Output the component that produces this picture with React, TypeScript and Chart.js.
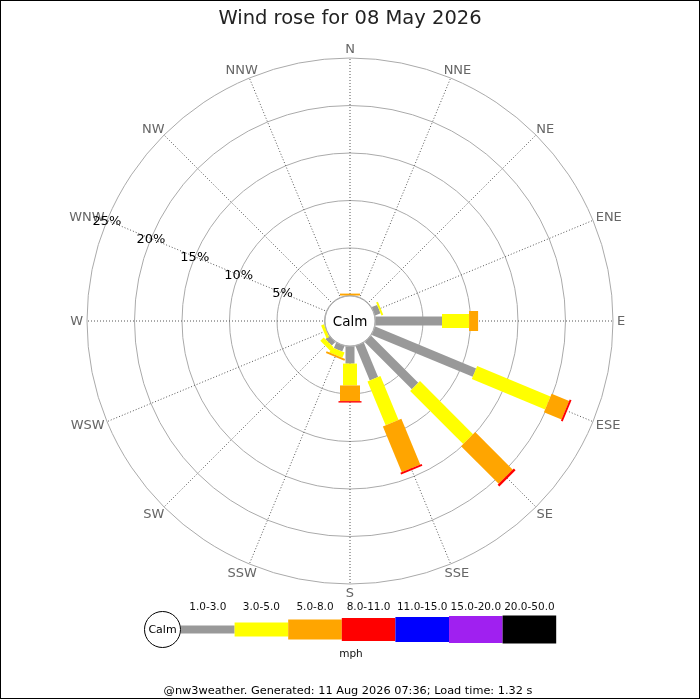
import React, { useEffect, useRef } from 'react';
import { Chart, registerables } from 'chart.js';

Chart.register(...registerables);

const TITLE = 'Wind rose for 08 May 2026';
const FOOTER = '@nw3weather. Generated: 11 Aug 2026 07:36; Load time: 1.32 s';
const UNIT = 'mph';
const CALM_LABEL = 'Calm';

const DIRECTIONS = ['N', 'NNE', 'NE', 'ENE', 'E', 'ESE', 'SE', 'SSE', 'S', 'SSW', 'SW', 'WSW', 'W', 'WNW', 'NW', 'NNW'];
const SPEED_BANDS = ['1.0-3.0', '3.0-5.0', '5.0-8.0', '8.0-11.0', '11.0-15.0', '15.0-20.0', '20.0-50.0'];

// percent of time per direction, per speed band
const BAND_1_3 = [0, 0, 0, 0.6, 7.0, 11.5, 7.0, 3.9, 1.8, 0.6, 0.5, 0, 0, 0, 0, 0];
const BAND_3_5 = [0, 0, 0, 0.2, 2.85, 8.35, 7.9, 5.0, 2.3, 0.6, 0.5, 0.3, 0, 0, 0, 0];
const BAND_5_8 = [0.2, 0, 0, 0, 0.95, 2.0, 5.6, 5.2, 1.65, 0.2, 0, 0, 0, 0, 0, 0];
const BAND_8_11 = [0, 0, 0, 0, 0, 0.2, 0.25, 0.2, 0.15, 0, 0, 0, 0, 0, 0, 0];
const BAND_11_15 = [0, 0, 0, 0, 0, 0, 0, 0, 0, 0, 0, 0, 0, 0, 0, 0];
const BAND_15_20 = [0, 0, 0, 0, 0, 0, 0, 0, 0, 0, 0, 0, 0, 0, 0, 0];
const BAND_20_50 = [0, 0, 0, 0, 0, 0, 0, 0, 0, 0, 0, 0, 0, 0, 0, 0];

const TICK_VALUES = [0, 5, 10, 15, 20, 25];
const TICK_LABEL_DIRECTION = 'WNW';
const CALM_HOLE = 2.684; // radius of the calm circle, in percent units
const MAX_PCT = 25;

const BAND_COLORS = ['#999999', '#ffff00', '#ffa500', '#ff0000', '#0000ff', '#a020f0', '#000000'];
const BAND_WIDTHS = [9, 14, 20, 23, 25, 27, 28];
const LEGEND_HEIGHTS = [8, 14, 20, 23, 25, 27, 28];

const FONT = '"DejaVu Sans", sans-serif';

const roseBands = [BAND_1_3, BAND_3_5, BAND_5_8, BAND_8_11, BAND_11_15, BAND_15_20, BAND_20_50];

const rosePlugin = {
  id: 'windrose',
  afterDatasetsDraw(chart: any) {
    const ctx: CanvasRenderingContext2D = chart.ctx;
    const s = chart.scales.r;
    ctx.save();

    // bars
    DIRECTIONS.forEach((_d, i) => {
      const a = s.getIndexAngle(i) - Math.PI / 2;
      let cum = 0;
      roseBands.forEach((vals, k) => {
        const v = vals[i];
        if (!(v > 0)) return;
        const r1 = s.getDistanceFromCenterForValue(cum);
        const r2 = s.getDistanceFromCenterForValue(cum + v);
        cum += v;
        ctx.save();
        ctx.translate(s.xCenter, s.yCenter);
        ctx.rotate(a);
        ctx.fillStyle = BAND_COLORS[k];
        ctx.fillRect(r1, -BAND_WIDTHS[k] / 2, r2 - r1, BAND_WIDTHS[k]);
        ctx.restore();
      });
    });

    // calm circle
    const rc = s.getDistanceFromCenterForValue(0);
    ctx.beginPath();
    ctx.arc(s.xCenter, s.yCenter, rc - 0.5, 0, Math.PI * 2);
    ctx.fillStyle = '#ffffff';
    ctx.fill();
    ctx.strokeStyle = '#aaaaaa';
    ctx.lineWidth = 1;
    ctx.stroke();
    ctx.fillStyle = '#000000';
    ctx.font = `13.5px ${FONT}`;
    ctx.textAlign = 'center';
    ctx.textBaseline = 'middle';
    ctx.fillText(CALM_LABEL, s.xCenter, s.yCenter + 1);

    // direction labels
    ctx.font = `13px ${FONT}`;
    ctx.fillStyle = '#666666';
    DIRECTIONS.forEach((d, i) => {
      const ang = s.getIndexAngle(i);
      const p = s.getPointPosition(i, s.drawingArea + 4);
      const w = ctx.measureText(d).width;
      const h = 10;
      const cx = p.x + (w / 2) * Math.sin(ang);
      const cy = p.y - (h / 2) * Math.cos(ang);
      ctx.textAlign = 'center';
      ctx.textBaseline = 'middle';
      ctx.fillText(d, cx, cy + 1);
    });

    // percent tick labels
    const ti = DIRECTIONS.indexOf(TICK_LABEL_DIRECTION);
    ctx.fillStyle = '#000000';
    ctx.font = `13px ${FONT}`;
    TICK_VALUES.forEach((v) => {
      if (v <= 0) return;
      const p = s.getPointPositionForValue(ti, v);
      ctx.textAlign = 'center';
      ctx.textBaseline = 'middle';
      ctx.fillText(`${v}%`, p.x, p.y + 1);
    });

    // title
    ctx.fillStyle = '#222222';
    ctx.font = `19.5px ${FONT}`;
    ctx.textAlign = 'center';
    ctx.textBaseline = 'alphabetic';
    ctx.fillText(TITLE, 350, 24);

    // legend
    const ly = 629.5;
    ctx.beginPath();
    ctx.arc(162.5, ly, 18, 0, Math.PI * 2);
    ctx.fillStyle = '#ffffff';
    ctx.fill();
    ctx.strokeStyle = '#000000';
    ctx.lineWidth = 1;
    ctx.stroke();
    ctx.fillStyle = '#000000';
    ctx.font = `11px ${FONT}`;
    ctx.textAlign = 'center';
    ctx.textBaseline = 'middle';
    ctx.fillText(CALM_LABEL, 162.5, ly + 1);

    const x0 = 181;
    const step = 53.6;
    SPEED_BANDS.forEach((lab, k) => {
      const x = x0 + k * step;
      const hh = LEGEND_HEIGHTS[k];
      ctx.fillStyle = BAND_COLORS[k];
      ctx.fillRect(x, ly - hh / 2, step, hh);
      ctx.fillStyle = '#111111';
      ctx.font = `10.5px ${FONT}`;
      ctx.textAlign = 'center';
      ctx.textBaseline = 'middle';
      ctx.fillText(lab, x + step / 2, 607);
    });
    ctx.fillStyle = '#111111';
    ctx.font = `10.5px ${FONT}`;
    ctx.fillText(UNIT, 351, 654);

    // footer
    ctx.fillStyle = '#000000';
    ctx.font = `11.3px ${FONT}`;
    ctx.textAlign = 'center';
    ctx.textBaseline = 'middle';
    ctx.fillText(FOOTER, 348, 691);

    // frame
    ctx.strokeStyle = '#000000';
    ctx.lineWidth = 1;
    ctx.strokeRect(0.5, 0.5, 699, 698);

    ctx.restore();
  },
};

export default function App() {
  const ref = useRef<HTMLCanvasElement | null>(null);

  useEffect(() => {
    if (!ref.current) return;
    const totals = DIRECTIONS.map((_d, i) => roseBands.reduce((acc, b) => acc + b[i], 0));
    const chart = new Chart(ref.current, {
      type: 'radar',
      data: {
        labels: DIRECTIONS,
        datasets: [
          {
            label: 'total',
            data: totals,
            borderWidth: 0,
            pointRadius: 0,
            pointHoverRadius: 0,
            backgroundColor: 'rgba(0,0,0,0)',
            borderColor: 'rgba(0,0,0,0)',
            fill: false,
          },
        ],
      },
      options: {
        animation: false,
        responsive: false,
        devicePixelRatio: 1,
        events: [],
        layout: { padding: { left: 87, right: 87, top: 58, bottom: 116 } },
        plugins: {
          legend: { display: false },
          tooltip: { enabled: false },
          title: { display: false },
        },
        scales: {
          r: {
            min: -CALM_HOLE,
            max: MAX_PCT,
            startAngle: 0,
            afterBuildTicks: (scale: any) => {
              scale.ticks = TICK_VALUES.map((v) => ({ value: v }));
            },
            ticks: { display: false },
            pointLabels: { display: false },
            grid: { circular: true, color: '#aaaaaa', lineWidth: 1 },
            angleLines: { display: true, color: '#555555', lineWidth: 1, borderDash: [1, 2] },
          },
        },
      },
      plugins: [rosePlugin],
    } as any);
    return () => chart.destroy();
  }, []);

  return (
    <div style={{ position: 'absolute', left: 0, top: 0, width: 700, height: 700, background: '#ffffff' }}>
      <canvas ref={ref} width={700} height={700} style={{ display: 'block', width: 700, height: 700 }} />
    </div>
  );
}
